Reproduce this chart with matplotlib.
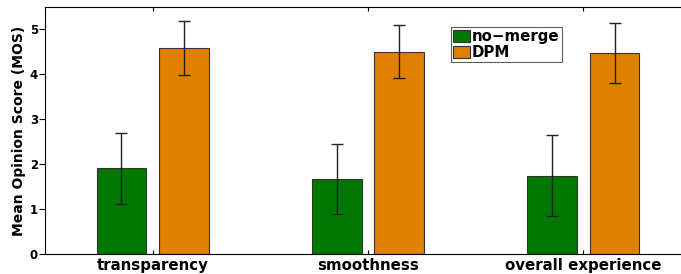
import numpy as np
import matplotlib.pyplot as plt

plt.rcParams['font.family'] = ['DejaVu Sans']
plt.rcParams['font.weight'] = 'bold'

# MOS ket qua danh gia
categories = ['transparency', 'smoothness', 'overall experience']
nomerge_mean = [1.91, 1.67, 1.74]
nomerge_err = [0.79, 0.77, 0.90]
dpm_mean = [4.59, 4.50, 4.48]
dpm_err = [0.60, 0.59, 0.67]

x = np.arange(1, len(categories) + 1)
w = 0.23
off = 0.145

fig = plt.figure(figsize=(6.81, 2.74), dpi=100)
ax = fig.add_axes([45/681, 20/274, 646/681, 247/274])

ax.bar(x - off, nomerge_mean, w, color='#007800', edgecolor='#333333', linewidth=0.8,
       label='no\u2212merge')
ax.bar(x + off, dpm_mean, w, color='#e07f00', edgecolor='#333333', linewidth=0.8,
       label='DPM')
ax.errorbar(x - off, nomerge_mean, yerr=nomerge_err, fmt='none', ecolor='#222222',
            elinewidth=1, capsize=4)
ax.errorbar(x + off, dpm_mean, yerr=dpm_err, fmt='none', ecolor='#222222',
            elinewidth=1, capsize=4)

ax.set_xlim(0.5, 3.5)
ax.set_ylim(0, 5.5)
ax.set_xticks(x)
ax.set_xticklabels(categories, fontsize=10.8, fontweight='bold')
ax.set_yticks([0, 1, 2, 3, 4, 5])
ax.tick_params(axis='x', direction='in', top=True, length=3, pad=3)
ax.tick_params(axis='y', direction='out', length=4, pad=1, labelsize=8.5)
for lbl in ax.get_yticklabels():
    lbl.set_fontweight('bold')
ax.set_ylabel('Mean Opinion Score (MOS)', fontsize=10, fontweight='bold', labelpad=3)
ax.spines['right'].set_visible(False)

leg = ax.legend(loc='upper left', bbox_to_anchor=((451-45)/646, (254-27)/247),
                fontsize=10.8, frameon=True, fancybox=False, edgecolor='#333333',
                handlelength=1.1, handleheight=0.85, handletextpad=0.15,
                borderpad=0.15, labelspacing=0.05, borderaxespad=0)
leg.get_frame().set_linewidth(0.8)

plt.savefig('out.png', dpi=100)
